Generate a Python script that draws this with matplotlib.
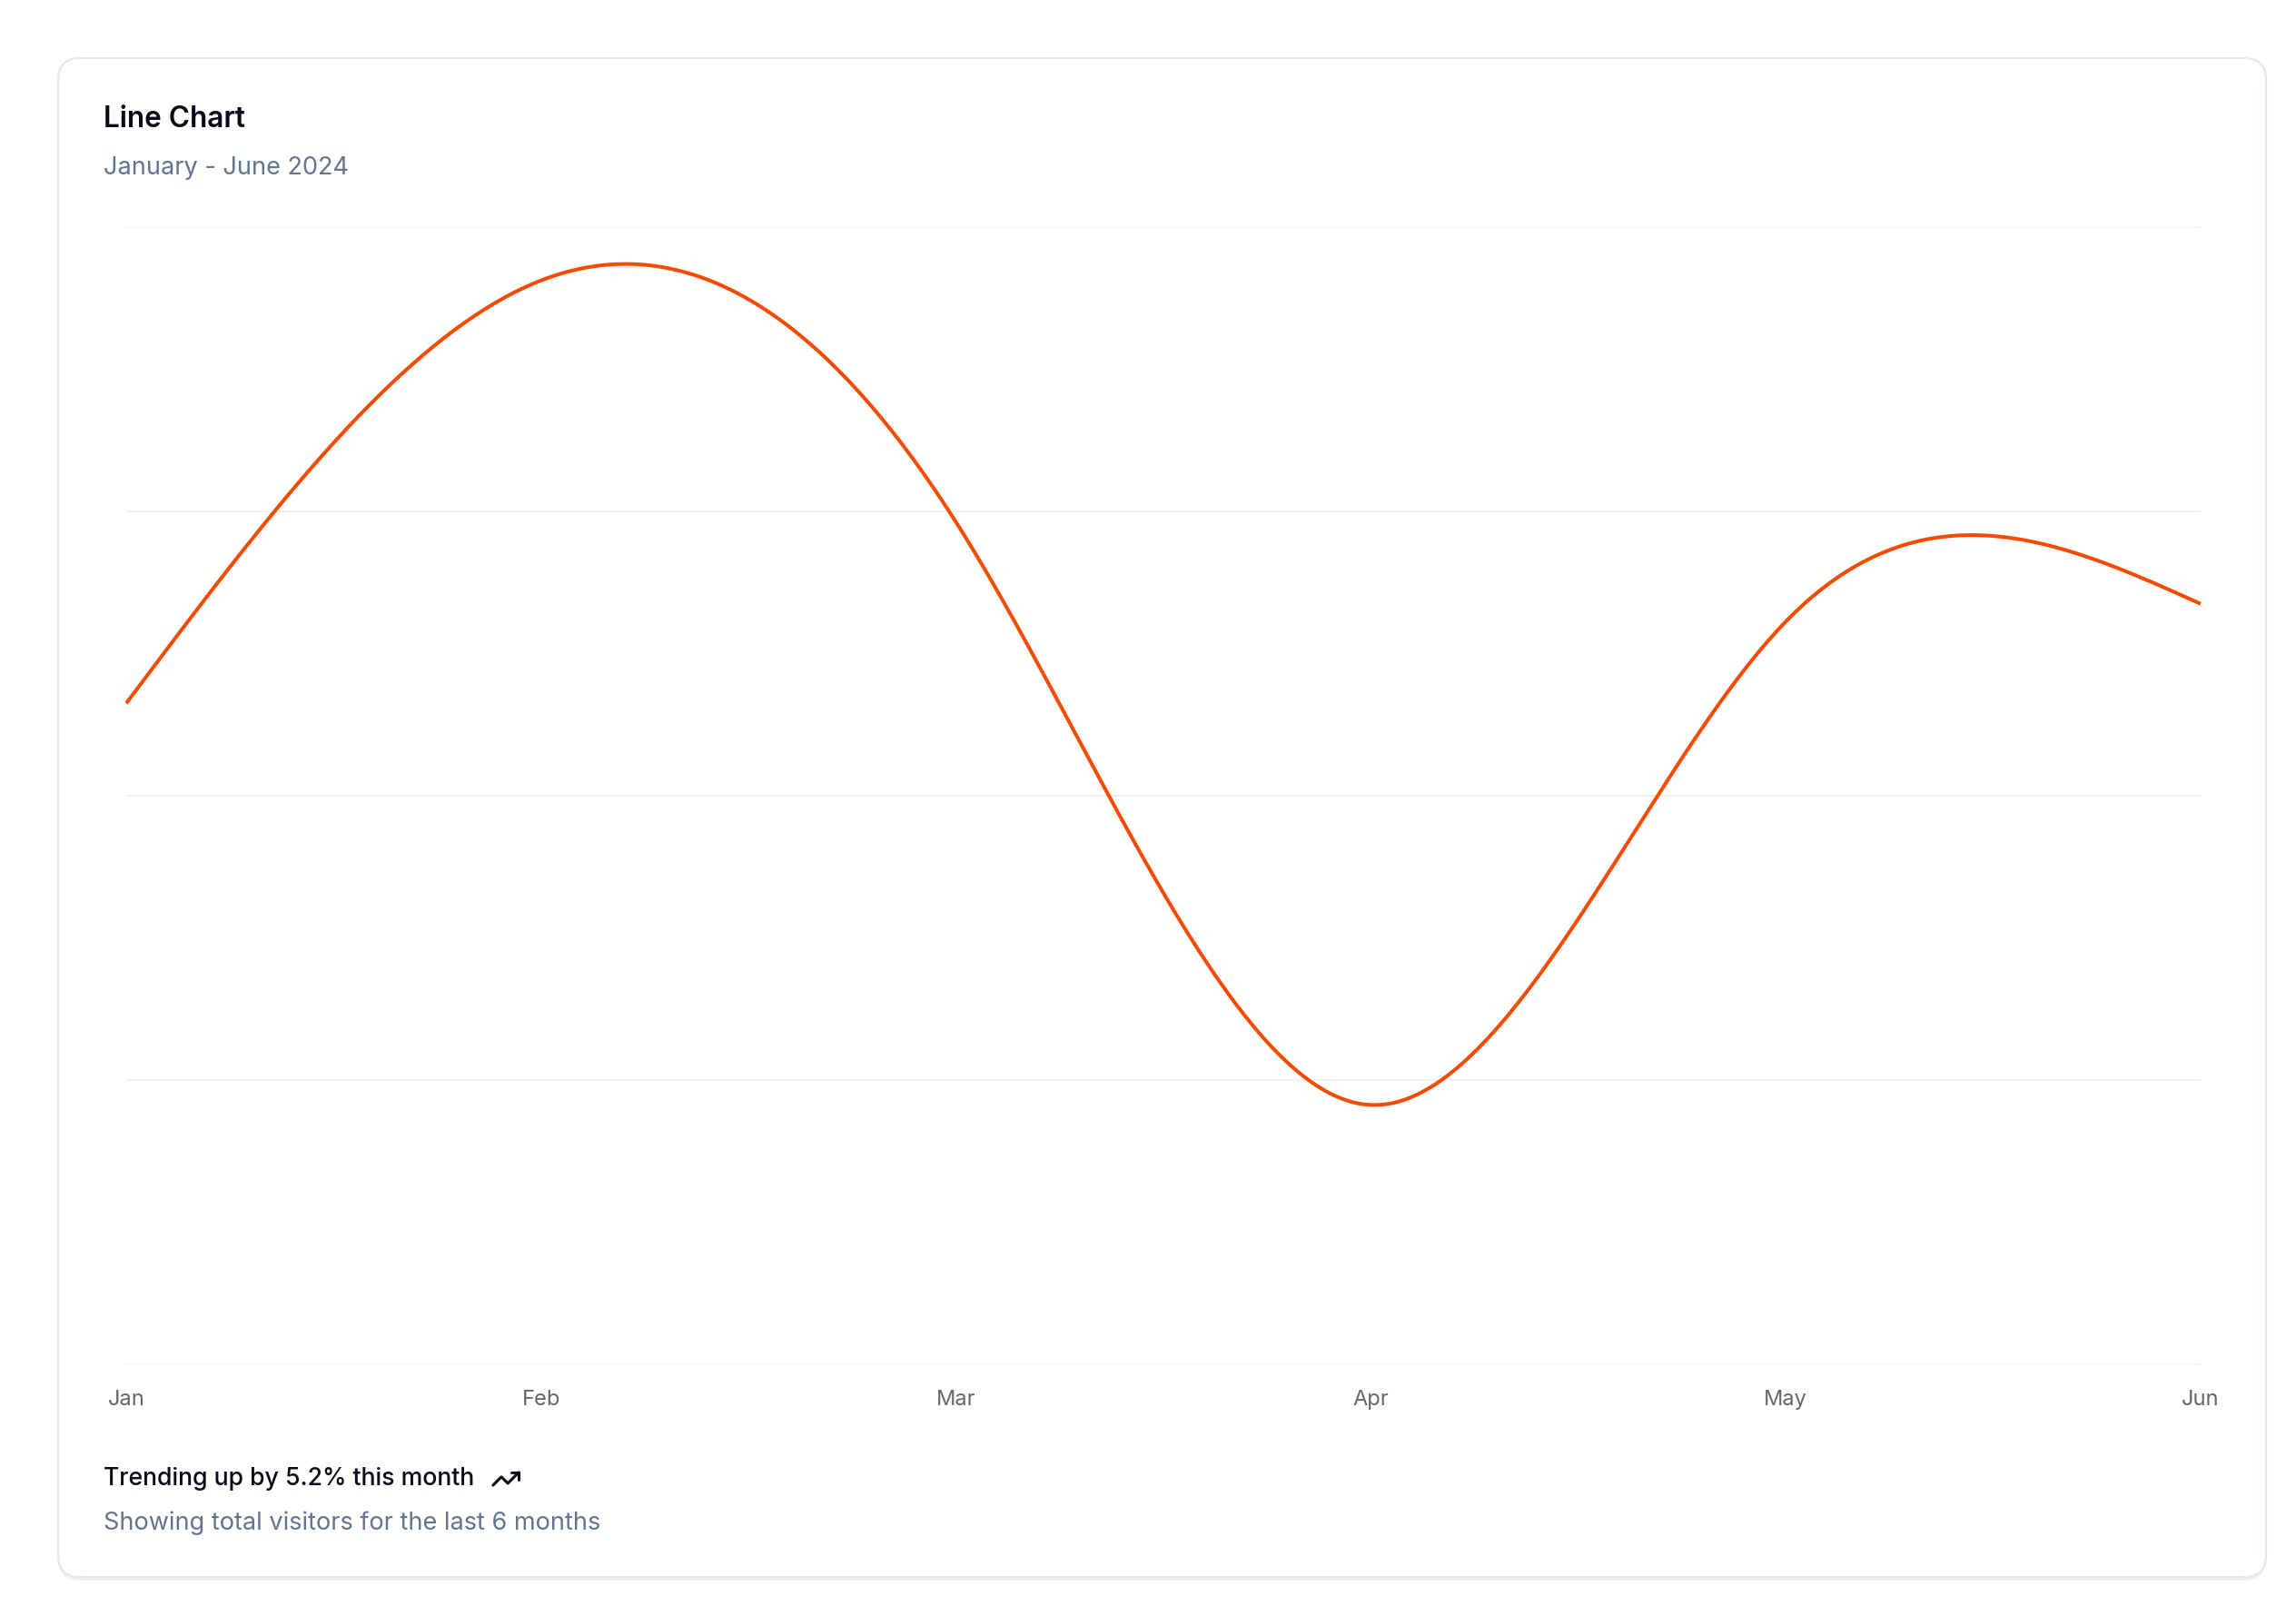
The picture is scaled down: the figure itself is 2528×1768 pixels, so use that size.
import matplotlib
matplotlib.use("Agg")
import matplotlib.pyplot as plt
import numpy as np
from matplotlib.patches import FancyBboxPatch

# Data
months = ["Jan", "Feb", "Mar", "Apr", "May", "Jun"]
desktop = [186, 305, 237, 73, 209, 214]
y_ticks = [0, 80, 160, 240, 320]

title = "Line Chart"
subtitle = "January - June 2024"
footer_main = "Trending up by 5.2% this month"
footer_sub = "Showing total visitors for the last 6 months"

LINE_COLOR = "#f54a00"
MUTED = "#62748e"
W, H = 2528, 1768

plt.rcParams["font.family"] = ["Inter", "DejaVu Sans"]


def natural_spline(xs, ys, n=400):
    """Natural cubic spline (same curve as d3 curveNatural for even x)."""
    xs = np.asarray(xs, float)
    ys = np.asarray(ys, float)
    k = len(xs)
    h = np.diff(xs)
    A = np.zeros((k, k))
    b = np.zeros(k)
    A[0, 0] = A[-1, -1] = 1
    for i in range(1, k - 1):
        A[i, i - 1] = h[i - 1]
        A[i, i] = 2 * (h[i - 1] + h[i])
        A[i, i + 1] = h[i]
        b[i] = 6 * ((ys[i + 1] - ys[i]) / h[i] - (ys[i] - ys[i - 1]) / h[i - 1])
    m = np.linalg.solve(A, b)
    xx = np.linspace(xs[0], xs[-1], n)
    idx = np.clip(np.searchsorted(xs, xx) - 1, 0, k - 2)
    x0, x1 = xs[idx], xs[idx + 1]
    hh = x1 - x0
    t0, t1 = x1 - xx, xx - x0
    yy = (m[idx] * t0**3 + m[idx + 1] * t1**3) / (6 * hh) \
        + (ys[idx] / hh - m[idx] * hh / 6) * t0 \
        + (ys[idx + 1] / hh - m[idx + 1] * hh / 6) * t1
    return xx, yy


fig = plt.figure(figsize=(W / 100, H / 100), dpi=100, facecolor="white")

# background layer in pixel coordinates
bg = fig.add_axes([0, 0, 1, 1])
bg.set_xlim(0, W)
bg.set_ylim(H, 0)
bg.axis("off")

# card shadow + card
bg.add_patch(FancyBboxPatch((64, 68), 2431, 1672, boxstyle="round,pad=0,rounding_size=24",
                            facecolor="#eef0f4", edgecolor="none", zorder=1))
bg.add_patch(FancyBboxPatch((64, 64), 2431, 1672, boxstyle="round,pad=0,rounding_size=24",
                            facecolor="white", edgecolor="#e3e7ee", linewidth=1.6, zorder=2))

bg.text(114, 132, title, fontsize=22.7, fontweight="semibold", color="#0a0a1a",
        ha="left", va="center", zorder=3)
bg.text(114, 185, subtitle, fontsize=19.5, color=MUTED, ha="left", va="center", zorder=3)
bg.text(114, 1628, footer_main, fontsize=19.2, fontweight="medium", color="#0a0a1a",
        ha="left", va="center", zorder=3)
bg.text(114, 1677, footer_sub, fontsize=19.5, color=MUTED, ha="left", va="center", zorder=3)

# trending-up icon (lucide style, 24x24 viewbox)
icon = fig.add_axes([540 / W, 1 - 1645 / H, 34 / W, 34 / H])
icon.set_xlim(0, 24)
icon.set_ylim(24, 0)
icon.axis("off")
icon.plot([22, 13.5, 8.5, 2], [7, 15.5, 10.5, 17], color="#0a0a1a", lw=2.2,
          solid_capstyle="round", solid_joinstyle="round")
icon.plot([16, 22, 22], [7, 7, 13], color="#0a0a1a", lw=2.2,
          solid_capstyle="round", solid_joinstyle="round")

# chart area
ax = fig.add_axes([139 / W, 1 - 1502 / H, (2423 - 139) / W, (1502 - 250) / H])
ax.set_facecolor("none")
x = np.arange(len(months))
xs, ys = natural_spline(x, desktop)
ax.plot(xs, ys, color=LINE_COLOR, linewidth=2.9, solid_capstyle="butt", zorder=3,
        clip_on=False)

ax.set_xlim(0, len(months) - 1)
ax.set_ylim(y_ticks[0], y_ticks[-1])
ax.set_yticks(y_ticks)
ax.set_xticks(x)
ax.set_xticklabels(months, fontsize=17, color="#666666")
ax.tick_params(axis="x", length=0, pad=20)
ax.tick_params(axis="y", length=0, labelleft=False)
ax.grid(axis="y", color="#eef0f3", linewidth=1.5)
ax.grid(axis="x", visible=False)
for s in ax.spines.values():
    s.set_visible(False)

fig.savefig("out.png", dpi=100, facecolor="white")
